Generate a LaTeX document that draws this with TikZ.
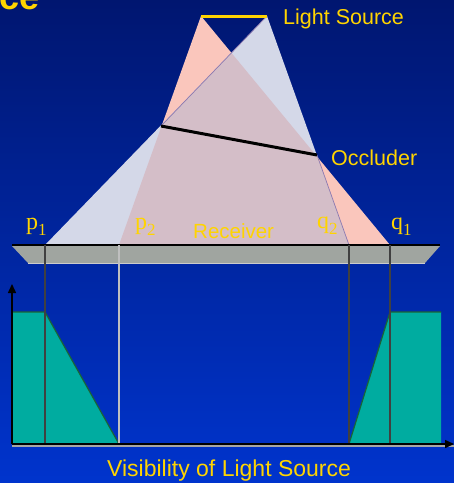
\documentclass[tikz,border=0pt]{standalone}
\usepackage{fontspec}
\setmainfont{Liberation Sans}
\newfontfamily\labelserif{Liberation Serif}
\usetikzlibrary{arrows.meta}

\definecolor{bgtop}{RGB}{0,22,112}
\definecolor{bgmid}{RGB}{0,42,178}
\definecolor{bgbot}{RGB}{0,52,205}
\definecolor{srcyellow}{RGB}{255,212,0}
\definecolor{umbrapink}{RGB}{250,198,188}
\definecolor{umbrablue}{RGB}{212,216,232}
\definecolor{overlapmauve}{RGB}{212,190,200}
\definecolor{edgepurple}{RGB}{140,120,175}
\definecolor{slabgray}{RGB}{160,165,160}
\definecolor{visteal}{RGB}{0,172,160}
\definecolor{visgreen}{RGB}{25,100,55}

\newcommand\pointlabel[2]{\labelserif\fontsize{24}{24}\selectfont #1\raisebox{-6pt}{\fontsize{17}{17}\selectfont #2}}

\begin{document}
\begin{tikzpicture}[x=1pt,y=-1pt,
  yellowtext/.style={text=srcyellow, inner sep=0pt, anchor=base west},
  dropline/.style={line width=1.8pt, draw=black!75},
  tealedge/.style={line width=1.2pt, draw=visgreen}]

\useasboundingbox (0,0) rectangle (454,483);
\clip (0,0) rectangle (454,483);
\shade[top color=bgtop, middle color=bgmid, bottom color=bgbot] (0,0) rectangle (454,483);

% light source, occluder and receiver points
\coordinate (l1) at (201,16);
\coordinate (l2) at (267,16);
\coordinate (o1) at (161,126);
\coordinate (o2) at (317,155);
\coordinate (p1) at (45,245);
\coordinate (p2) at (119,245);
\coordinate (q2) at (349,245);
\coordinate (q1) at (390,245);
\coordinate (r1) at (12,245);
\coordinate (r2) at (440,245);
\coordinate (o) at (12,444);
\coordinate (hi) at (12,312);
\coordinate (top) at (12,284);
\coordinate (xend) at (454,444);

% shadow volumes
\fill[umbrapink] (l1) -- (p2) -- (q1) -- cycle;
\fill[umbrablue] (l2) -- (p1) -- (q2) -- cycle;
\begin{scope}
  \clip (l1) -- (p2) -- (q1) -- cycle;
  \fill[overlapmauve] (l2) -- (p1) -- (q2) -- cycle;
\end{scope}
\draw[edgepurple, line width=0.7pt] (l2) -- (o1) (o2) -- (q2);

\draw[srcyellow, line width=3pt] (l1) -- (l2);
\draw[black, line width=3pt] (o1) -- (o2);

% receiver
\fill[slabgray] (12,246) -- (440,246) -- (425,263) -- (28,263) -- cycle;
\draw[black!20, line width=0.8pt] (28,263) -- (425,263);
\draw[black, line width=2pt] (r1) -- (r2);

% visibility plot
\fill[visteal] (hi) -- (p1 |- hi) -- (p2 |- o) -- (o) -- cycle;
\fill[visteal] (q2 |- o) -- (q1 |- hi) -- (441,312) -- (441,444) -- cycle;
\draw[tealedge] (hi) -- (p1 |- hi) -- (p2 |- o);
\draw[tealedge] (q2 |- o) -- (q1 |- hi) -- (441,312);

\draw[dropline] (p1) -- (p1 |- o);
\draw[line width=1.8pt, draw=black!25] (p2) -- (p2 |- o);
\draw[dropline] (q2) -- (q2 |- o);
\draw[dropline] (q1) -- (q1 |- o);

\draw[black!35, line width=1.5pt] (12,446) -- (454,446);
\draw[black, line width=1.5pt, -{Triangle[length=9pt,width=8pt]}] (o) -- (top);
\draw[black, line width=1.5pt, -{Triangle[length=9pt,width=8pt]}] (o) -- (xend);

% labels
\node[yellowtext, font=\bfseries\fontsize{36}{36}\selectfont] (title) at (-1,9) {ce};
\node[yellowtext, font=\fontsize{21.5}{21.5}\selectfont] (srclabel) at (283,24.5) {Light Source};
\node[yellowtext, font=\fontsize{21.5}{21.5}\selectfont] (occlabel) at (331,165) {Occluder};
\node[yellowtext, font=\fontsize{20.5}{20.5}\selectfont] (reclabel) at (193,238) {Receiver};
\node[yellowtext, font=\fontsize{23}{23}\selectfont] (vislabel) at (107,476) {Visibility of Light Source};
\node[yellowtext] (p1label) at (26,229.5) {\pointlabel{p}{1}};
\node[yellowtext] (p2label) at (135,229) {\pointlabel{p}{2}};
\node[yellowtext] (q2label) at (317,228) {\pointlabel{q}{2}};
\node[yellowtext] (q1label) at (391,229) {\pointlabel{q}{1}};
\end{tikzpicture}
\end{document}
